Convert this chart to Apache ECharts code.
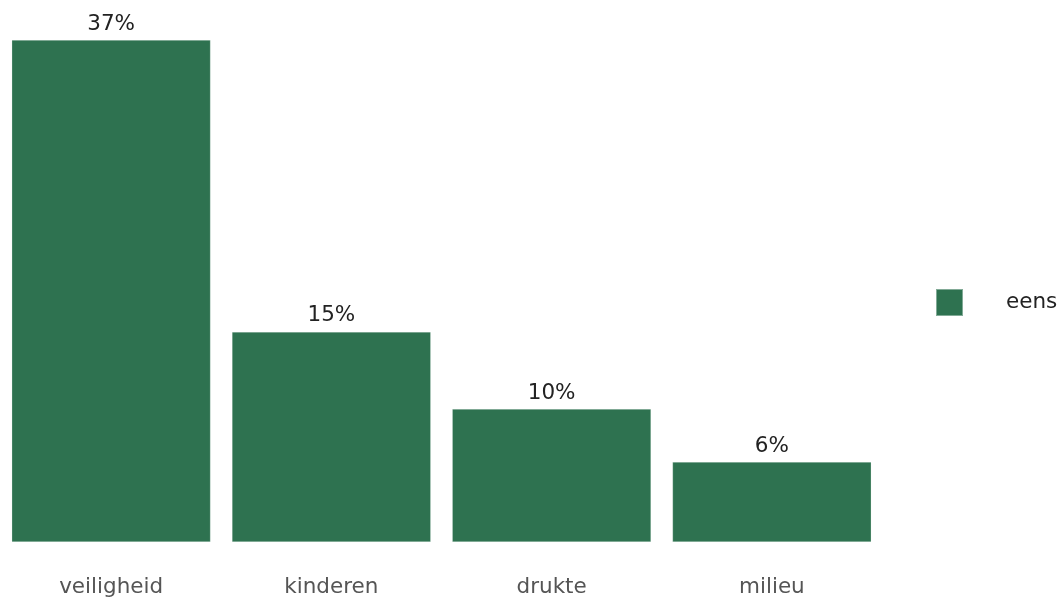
<!DOCTYPE html>
<html>
<head>
<meta charset="utf-8">
<script src="https://cdn.jsdelivr.net/npm/echarts@6/dist/echarts.min.js"></script>
<style>
html,body{margin:0;padding:0;background:#fff;}
#chart{width:1063px;height:598px;}
</style>
</head>
<body>
<div id="chart"></div>
<script>
var categories = ['veiligheid', 'kinderen', 'drukte', 'milieu'];
var seriesName = 'eens';
var values = [37, 15.49, 9.8, 5.9];

var FONT = '"DejaVu Sans", "Noto Sans", sans-serif';
var chart = echarts.init(document.getElementById('chart'));
chart.setOption({
  animation: false,
  grid: { left: 1, top: 40, width: 881, bottom: 54, containLabel: false },
  legend: {
    left: 935, top: 288, padding: 0,
    itemWidth: 27, itemHeight: 27,
    icon: 'rect',
    textStyle: { fontFamily: FONT, fontSize: 21.5, color: '#222', padding: [0, 0, 0, 38] },
    data: [seriesName]
  },
  xAxis: {
    type: 'category',
    data: categories,
    axisLine: { show: false },
    axisTick: { show: false },
    axisLabel: { margin: 34, fontFamily: FONT, fontSize: 21.5, color: '#555' }
  },
  yAxis: {
    type: 'value', min: 0, max: 37,
    show: false,
    splitLine: { show: false }
  },
  series: [{
    name: seriesName,
    type: 'bar',
    data: values,
    barCategoryGap: '9.7%',
    itemStyle: { color: '#2E7250', borderColor: 'rgba(255,255,255,0.4)', borderWidth: 0.6 },
    label: {
      show: true, position: 'top', distance: 5,
      fontFamily: FONT, fontSize: 21.5, color: '#222',
      formatter: function (p) { return Math.round(p.value) + '%'; }
    }
  }]
});
</script>
</body>
</html>
